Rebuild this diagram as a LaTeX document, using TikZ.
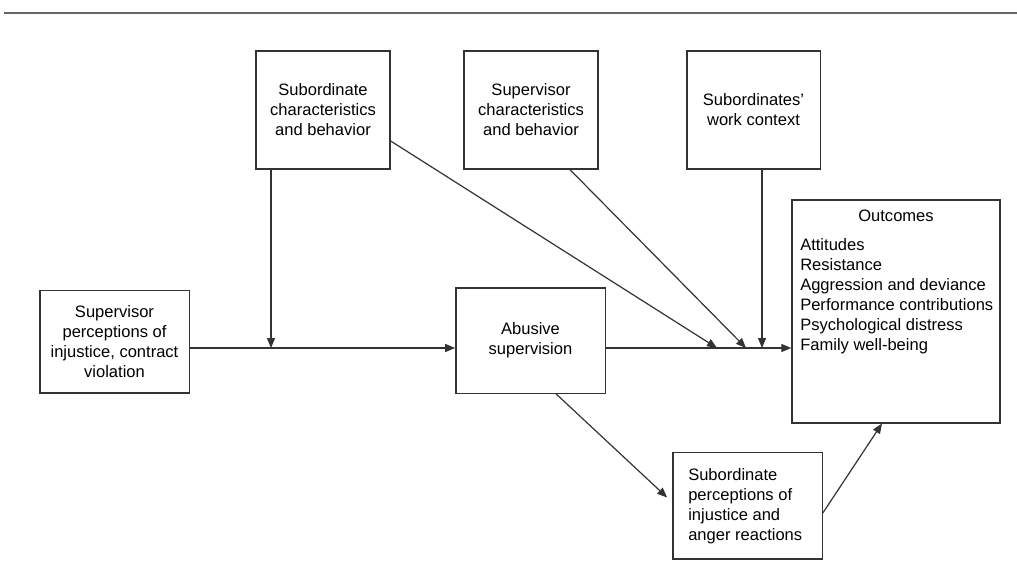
\documentclass[tikz,border=0pt]{standalone}
\usepackage{fontspec}
\setmainfont{Liberation Sans}
\usetikzlibrary{arrows.meta,positioning,calc}
\colorlet{BoxLine}{black!80}
\colorlet{RuleGray}{black!60}

\begin{document}
\begin{tikzpicture}[x=0.75pt,y=-0.75pt,
    font=\fontsize{12.4}{15}\selectfont,
    block/.style={draw=BoxLine,line width=1pt,inner sep=0pt,align=center},
    arr/.style={-{Triangle[length=7.5pt,width=6pt]},line width=0.9pt,BoxLine}]
  \useasboundingbox (0,0) rectangle (1017,588);
  \draw[line width=2pt,RuleGray] (4,13) -- (1017,13);
  \node[block,minimum width=100.5pt,minimum height=88.5pt] (subchar) at (323,110) {Subordinate\\characteristics\\and behavior};
  \node[block,minimum width=100.5pt,minimum height=88.5pt] (supchar) at (531,110) {Supervisor\\characteristics\\and behavior};
  \node[block,minimum width=100pt,minimum height=88.5pt] (workctx) at (753.5,110) {Subordinates'\\work context};
  \node[block,minimum width=156pt,minimum height=167pt] (outcomes) at (896,311.5) {};
  \node (outtitle) at (896,216) {Outcomes};
  \node[anchor=west,align=left,inner sep=0pt] (outlist) at (800,296.5) {Attitudes\\Resistance\\Aggression and deviance\\Performance contributions\\Psychological distress\\Family well-being};
  \node[block,minimum width=112pt,minimum height=77pt] (supperc) at (114.5,341.5) {Supervisor\\perceptions of\\injustice, contract\\violation};
  \node[block,minimum width=112pt,minimum height=79pt] (abusive) at (530.5,340.5) {Abusive\\supervision};
  \node[block,minimum width=112pt,minimum height=80pt] (subperc) at (747.5,505.5) {};
  \node[anchor=west,align=left,inner sep=0pt] (subperctext) at (688,506.5) {Subordinate\\perceptions of\\injustice and\\anger reactions};
  \coordinate (j1) at (271,348);
  \coordinate (t1) at (717,348);
  \coordinate (t2) at (746,348);
  \coordinate (t3) at (762,348);
  \draw[arr] (supperc.east |- j1) -- (abusive.west |- j1);
  \draw[arr] (j1 |- subchar.south) -- (j1);
  \draw[arr] (abusive.east |- j1) -- (outcomes.west |- j1);
  \draw[arr] ($(subchar.east)+(0,31)$) -- (t1);
  \draw[arr] ($(supchar.south)+(39,0)$) -- (t2);
  \draw[arr] (t3 |- workctx.south) -- (t3);
  \draw[arr] ($(abusive.south)+(25.5,0)$) -- ($(subperc.west)+(-5,-8)$);
  \draw[arr] ($(subperc.east)+(0,7.5)$) -- ($(outcomes.south)+(-14,0)$);
\end{tikzpicture}
\end{document}
